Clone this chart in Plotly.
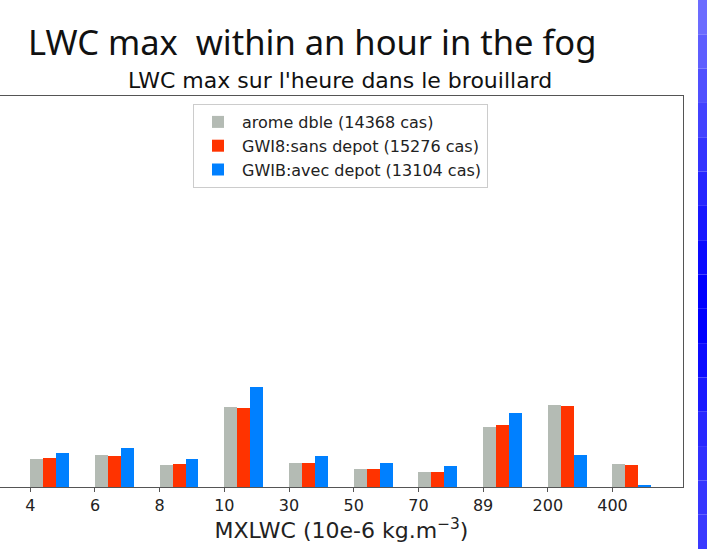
import plotly.graph_objects as go

# ---- data (percent of cases per MXLWC class) ----
categories = ["4", "6", "8", "10", "30", "50", "70", "89", "200", "400"]
series_names = ["arome dble (14368 cas)", "GWI8:sans depot (15276 cas)", "GWIB:avec depot (13104 cas)"]
arome_dble = [7.2, 8.3, 5.65, 20.7, 6.35, 4.8, 4.0, 15.7, 21.3, 6.0]
gwi8_sans_depot = [7.45, 8.05, 6.0, 20.4, 6.35, 4.8, 4.0, 16.0, 21.0, 5.7]
gwib_avec_depot = [8.9, 10.1, 7.2, 26.1, 8.05, 6.35, 5.4, 19.2, 8.3, 0.45]
colors = ["#b4bbb4", "#ff3300", "#0080ff"]

W, H = 707, 549
# plot area in pixels
px0, px1, py0, py1 = 0, 683, 96, 487


def fx(p):
    return p / W


def fy(p):
    return 1 - p / H


fig = go.Figure()
bar_w = 0.2
for k, (name, vals, col) in enumerate(zip(series_names, [arome_dble, gwi8_sans_depot, gwib_avec_depot], colors)):
    xs = [i + bar_w * (k + 0.5) for i in range(len(categories))]
    fig.add_trace(go.Bar(x=xs, y=vals, width=bar_w, name=name,
                         marker=dict(color=col, line=dict(width=0))))

axis_line = "#555555"
fig.update_xaxes(domain=[fx(px0), fx(px1)], range=[-0.468, 10.09], tickmode="array",
                 tickvals=list(range(len(categories))), ticktext=categories,
                 ticks="outside", ticklen=4, tickcolor=axis_line,
                 showline=True, linecolor=axis_line, linewidth=1, mirror=True,
                 showgrid=False, zeroline=False, automargin=False,
                 tickfont=dict(family="DejaVu Sans", size=16, color="#222222"),
                 title=dict(text="MXLWC (10e-6 kg.m<sup>\u22123</sup>)",
                            font=dict(family="DejaVu Sans", size=22, color="#222222"),
                            standoff=2))
fig.update_yaxes(domain=[fy(py1), fy(py0)], range=[0, 101.6], showticklabels=False, ticks="",
                 showline=True, linecolor=axis_line, linewidth=1, mirror=True,
                 showgrid=False, zeroline=False, automargin=False)

# titles
fig.add_annotation(text="LWC max  within an hour in the fog", xref="paper", yref="paper",
                   x=fx(26), y=fy(42), xanchor="left", yanchor="middle",
                   showarrow=False, font=dict(family="Noto Sans", size=34.5, color="#111111"))
fig.add_annotation(text="LWC max sur l'heure dans le brouillard", xref="paper", yref="paper",
                   x=fx(340), y=fy(80.5), xanchor="center", yanchor="middle",
                   showarrow=False, font=dict(family="DejaVu Sans", size=22, color="#111111"))

# right-side blue stripe (slide decoration), drawn as bands
stripe = ["#6c6cff", "#5e5eff", "#5050ff", "#4242ff", "#3434ff", "#2626ff", "#1818ff",
          "#0a0aff", "#0000ff", "#0000ff", "#0c0cff", "#1a1aff", "#2828ff", "#3030ff",
          "#3636ff", "#3a3aff"]
n = len(stripe)
for j, c in enumerate(stripe):
    fig.add_shape(type="rect", xref="paper", yref="paper",
                  x0=698 / W, x1=1.0, y0=1 - (j + 1) / n, y1=1 - j / n,
                  fillcolor=c, line=dict(width=0), layer="above")

fig.update_layout(
    width=W, height=H,
    margin=dict(l=0, r=0, t=0, b=0, pad=0),
    paper_bgcolor="white", plot_bgcolor="white",
    bargap=0, barmode="overlay",
    showlegend=True,
    legend=dict(x=fx(193), y=fy(104), xanchor="left", yanchor="top",
                bgcolor="rgba(255,255,255,0.9)", bordercolor="#cccccc", borderwidth=1,
                font=dict(family="DejaVu Sans", size=16, color="#222222"),
                itemwidth=38, tracegroupgap=0),
)

fig.write_html("out.html", config={"displayModeBar": False},
               post_script=("document.documentElement.style.overflow='hidden';"
                            "document.documentElement.style.margin='0';"
                            "document.body.style.margin='0';"
                            "document.body.style.overflow='hidden';"))
